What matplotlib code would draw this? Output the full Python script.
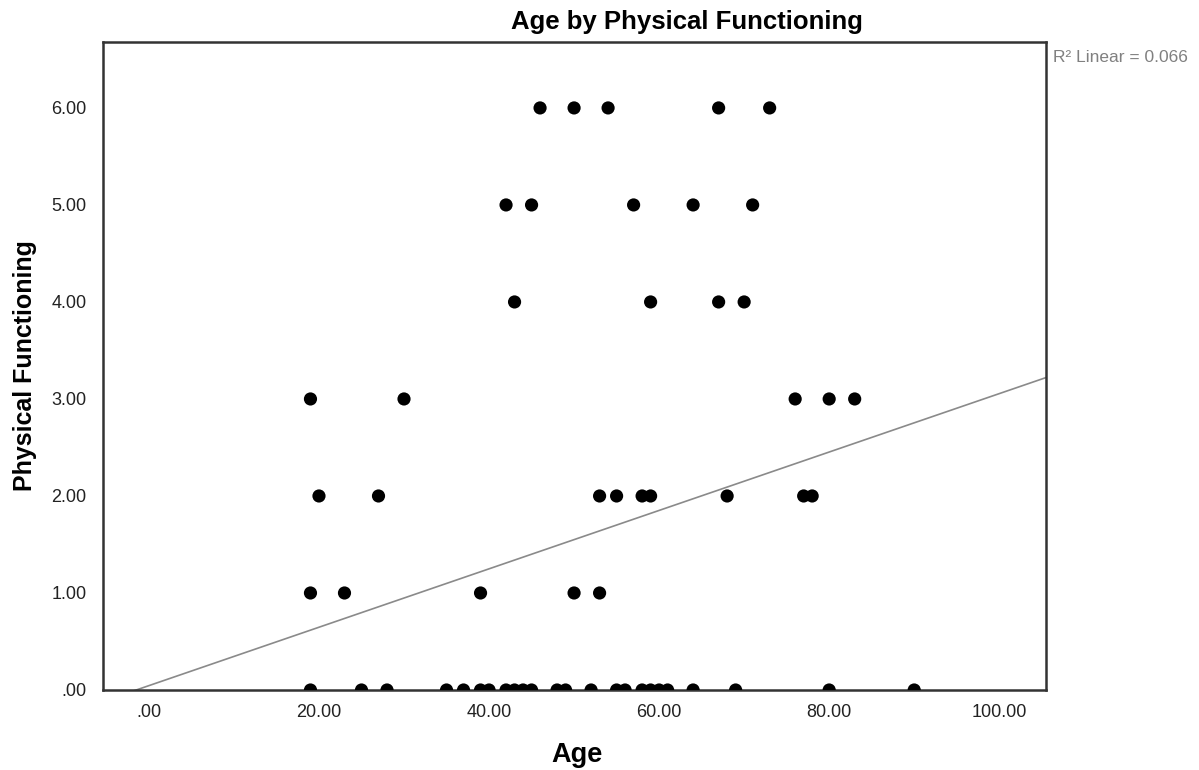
import numpy as np
import matplotlib.pyplot as plt
from matplotlib.ticker import FuncFormatter

plt.rcParams['font.family'] = ['Liberation Sans', 'DejaVu Sans']

# ages per physical functioning score
age_pf6 = [46, 50, 54, 67, 73]
age_pf5 = [42, 45, 57, 64, 71]
age_pf4 = [43, 59, 67, 70]
age_pf3 = [19, 30, 76, 80, 83]
age_pf2 = [20, 27, 53, 55, 58, 59, 68, 77, 78]
age_pf1 = [19, 23, 39, 50, 53]
age_pf0 = [19, 25, 28, 35, 37, 39, 40, 42, 43, 44, 45, 48, 49, 52, 55, 56,
           58, 59, 60, 61, 64, 69, 80, 90]

# linear fit shown on the chart
fit_intercept = 0.045
fit_slope = 0.0301
r2_text = "R\u00b2 Linear = 0.066"

groups = [age_pf0, age_pf1, age_pf2, age_pf3, age_pf4, age_pf5, age_pf6]
ages = []
scores = []
for score, grp in enumerate(groups):
    ages += grp
    scores += [score] * len(grp)
ages = np.array(ages)
scores = np.array(scores)

fig = plt.figure(figsize=(11.99, 7.70), dpi=100)
ax = fig.add_axes([0.0859, 0.1039, 0.7865, 0.8416])

xmin, xmax = -5.4, 105.5
ax.set_xlim(xmin, xmax)
ax.set_ylim(0, 6.68)

xs = np.array([xmin, xmax])
ax.plot(xs, fit_intercept + fit_slope * xs, color='#8a8a8a', lw=1.2, zorder=2)
ax.scatter(ages, scores, s=90, color='black', edgecolors='none', zorder=3)

def fmt(v, pos):
    s = f"{v:.2f}"
    if s.startswith("0"):
        s = s[1:]
    return s

ax.set_xticks(np.arange(0, 101, 20))
ax.set_yticks(np.arange(0, 7, 1))
ax.xaxis.set_major_formatter(FuncFormatter(fmt))
ax.yaxis.set_major_formatter(FuncFormatter(fmt))
ax.tick_params(length=0, labelsize=13, colors='#222222')
ax.tick_params(axis='x', pad=10)
ax.tick_params(axis='y', pad=12)

for sp in ax.spines.values():
    sp.set_linewidth(1.8)
    sp.set_color('#333333')

fig.text(577 / 1199, 1 - 755 / 770, 'Age', ha='center', va='center',
         fontsize=19.5, fontweight='bold')
fig.text(25 / 1199, 1 - 366 / 770, 'Physical Functioning', ha='center',
         va='center', rotation=90, fontsize=18, fontweight='bold')
fig.text(687 / 1199, 1 - 22 / 770, 'Age by Physical Functioning', ha='center',
         va='center', fontsize=18.5, fontweight='bold')
fig.text(1053 / 1199, 1 - 58 / 770, r2_text, ha='left', va='center',
         fontsize=12.5, color='#808080')

fig.savefig('out.png', dpi=100)
